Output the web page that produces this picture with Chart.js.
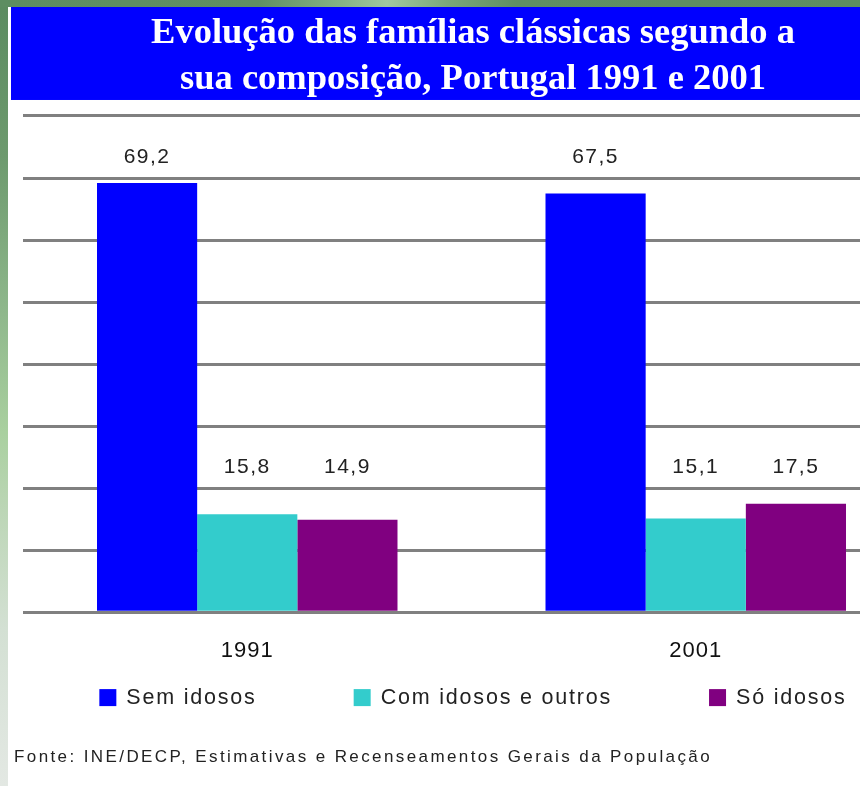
<!DOCTYPE html>
<html>
<head>
<meta charset="utf-8">
<script src="https://cdn.jsdelivr.net/npm/chart.js@4.4.1/dist/chart.umd.min.js"></script>
<style>
html,body{margin:0;padding:0;width:860px;height:786px;overflow:hidden;}
body{position:relative;background:linear-gradient(to bottom,#5b8b5f 0%,#6d9a6e 20%,#8fb88c 40%,#a9d09f 55%,#bcd6b6 65%,#d3e0d3 80%,#e3e8e3 100%);}
#top{position:absolute;left:0;top:0;width:860px;height:7px;background:linear-gradient(to right,#5d8d61 0%,#5f8f63 30%,#86b486 40%,#a0c8a0 45%,#7aa87a 52%,#5f8f63 60%,#5d8d61 100%);}
#panel{position:absolute;left:8px;top:7px;right:0;bottom:0;background:#fff;}
#c{position:absolute;left:0;top:0;}
</style>
</head>
<body>
<div id="top"></div>
<div id="panel"></div>
<canvas id="c" width="946" height="786"></canvas>
<script>
// ---- data ----
const categories = ['1991', '2001'];
const seriesNames = ['Sem idosos', 'Com idosos e outros', 'Só idosos'];
const semIdosos = [69.2, 67.5];
const comIdososOutros = [15.8, 15.1];
const soIdosos = [14.9, 17.5];
const titleLines = ['Evolução das famílias clássicas segundo a', 'sua composição, Portugal 1991 e 2001'];
const sourceNote = 'Fonte: INE/DECP, Estimativas e Recenseamentos Gerais da População';
const yMin = 0, yMax = 80, yStep = 10;

const colors = ['#0000ff', '#33cccc', '#800080'];
const fmt = v => v.toFixed(1).replace('.', ',');

// ---- letter spacing tied to font size ----
const canvas = document.getElementById('c');
const ctx = canvas.getContext('2d');
const SPACING = {'22': '1px', '21': '1.5px', '21.5': '1.8px', '17': '2.4px'};
const fontDesc = Object.getOwnPropertyDescriptor(CanvasRenderingContext2D.prototype, 'font');
Object.defineProperty(ctx, 'font', {
  configurable: true,
  get() { return fontDesc.get.call(this); },
  set(v) {
    fontDesc.set.call(this, v);
    const m = /(\d+(?:\.\d+)?)px/.exec(v);
    if ('letterSpacing' in this) this.letterSpacing = (m && SPACING[m[1]]) || '0px';
  }
});

const bannerPlugin = {
  id: 'banner',
  beforeDraw(chart) {
    const tb = chart.titleBlock;
    const c = chart.ctx;
    c.save();
    c.fillStyle = '#0000ff';
    c.fillRect(11, tb.top, chart.width - 11, tb.height - 16);
    c.restore();
  }
};

const valueLabels = {
  id: 'valueLabels',
  afterDatasetsDraw(chart) {
    const c = chart.ctx, y = chart.scales.y;
    const groups = [{sets: [0], lift: 26}, {sets: [1, 2], lift: 36}];
    c.save();
    c.font = "21px 'Liberation Sans'";
    c.fillStyle = '#222';
    c.textAlign = 'center';
    c.textBaseline = 'middle';
    groups.forEach(g => {
      const top = Math.max(...g.sets.flatMap(i => chart.data.datasets[i].data));
      const py = y.getPixelForValue(top) - g.lift;
      g.sets.forEach(i => {
        chart.getDatasetMeta(i).data.forEach((bar, j) => {
          c.fillText(fmt(chart.data.datasets[i].data[j]), bar.x, py);
        });
      });
    });
    c.restore();
  }
};

const customLegend = {
  id: 'customLegend',
  afterDraw(chart) {
    const c = chart.ctx;
    const box = 17, fontSize = 21.5, gap = 10, pad = 97;
    c.save();
    c.font = fontSize + "px 'Liberation Sans'";
    c.textBaseline = 'middle';
    c.textAlign = 'left';
    const items = chart.data.datasets.map(d => ({text: d.label, color: d.backgroundColor, w: c.measureText(d.label).width}));
    const total = items.reduce((s, it) => s + box + gap + it.w, 0) + pad * (items.length - 1);
    let x = chart.width / 2 - total / 2;
    const yc = chart.scales.x.bottom + 15;
    items.forEach(it => {
      c.fillStyle = it.color;
      c.fillRect(x, yc - box / 2, box, box);
      c.fillStyle = '#222';
      c.fillText(it.text, x + box + gap, yc);
      x += box + gap + it.w + pad;
    });
    c.restore();
  }
};

new Chart(ctx, {
  type: 'bar',
  data: {
    labels: categories,
    datasets: [
      {label: seriesNames[0], data: semIdosos, backgroundColor: colors[0]},
      {label: seriesNames[1], data: comIdososOutros, backgroundColor: colors[1]},
      {label: seriesNames[2], data: soIdosos, backgroundColor: colors[2]}
    ]
  },
  options: {
    responsive: false,
    animation: false,
    devicePixelRatio: 1,
    categoryPercentage: 0.67,
    barPercentage: 1,
    layout: {padding: {left: 14, right: 14, top: 7, bottom: 18}},
    plugins: {
      legend: {display: false},
      tooltip: {enabled: false},
      title: {
        display: true,
        text: titleLines,
        color: '#ffffff',
        font: {family: "'Liberation Serif'", weight: 'bold', size: 36.5, lineHeight: 1.26},
        padding: {top: 4, bottom: 13}
      },
      subtitle: {
        display: true,
        position: 'bottom',
        align: 'start',
        text: sourceNote,
        color: '#222',
        font: {family: "'Liberation Sans'", size: 17, lineHeight: 1.2},
        padding: {top: 65, bottom: 0}
      }
    },
    scales: {
      x: {
        grid: {display: false},
        border: {display: false},
        ticks: {color: '#111', padding: 18, font: {family: "'Liberation Sans'", size: 22}}
      },
      y: {
        min: yMin, max: yMax,
        ticks: {display: false, stepSize: yStep},
        grid: {color: '#808080', lineWidth: 3, drawTicks: false},
        border: {display: false},
        afterFit(s) { s.width = 9; }
      },
      yR: {
        position: 'right',
        ticks: {display: false},
        grid: {display: false},
        border: {display: false},
        afterFit(s) { s.width = 12; }
      }
    }
  },
  plugins: [bannerPlugin, valueLabels, customLegend]
});
</script>
</body>
</html>
